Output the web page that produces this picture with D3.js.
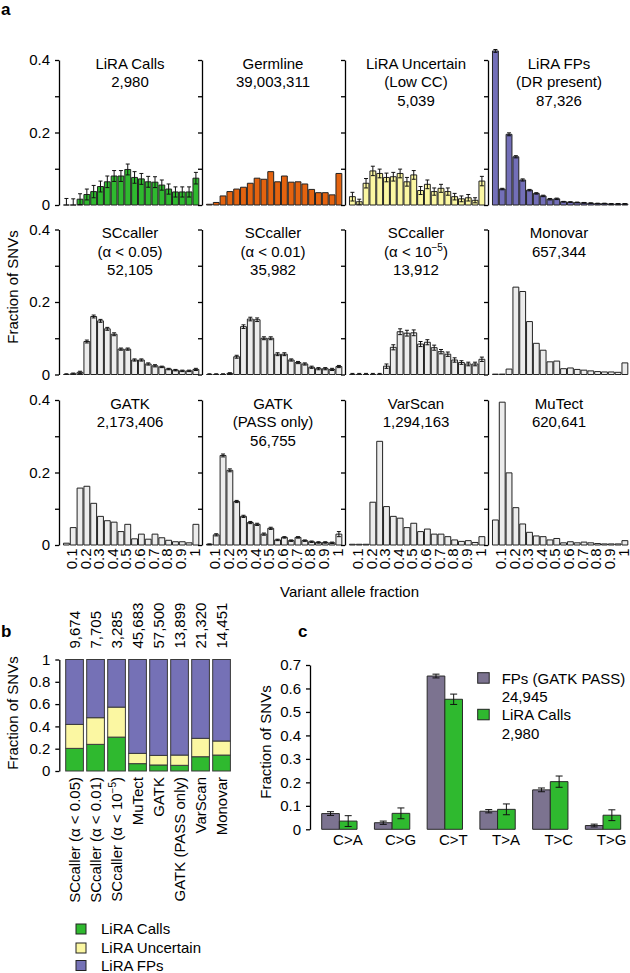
<!DOCTYPE html>
<html>
<head>
<meta charset="utf-8">
<script src="https://cdn.jsdelivr.net/npm/d3@7"></script>
<style>
  body { margin: 0; background: #fff; }
  svg { font-family: "Liberation Sans", Arial, Helvetica, sans-serif; }
</style>
</head>
<body>
<svg id="fig" width="630" height="973"></svg>
<script>
// ---------- data: panel a (VAF histograms) ----------
const vafBins = ["0.05","0.1","0.15","0.2","0.25","0.3","0.35","0.4","0.45","0.5",
                 "0.55","0.6","0.65","0.7","0.75","0.8","0.85","0.9","0.95","1"];
const vafTickLabels = ["0.1","0.2","0.3","0.4","0.5","0.6","0.7","0.8","0.9","1"];

const liraCalls     = [0,0,0.016,0.029,0.037,0.051,0.064,0.080,0.080,0.098,0.076,0.072,0.064,0.063,0.055,0.044,0.036,0.036,0.036,0.074];
const liraCallsErr  = [0.018,0.017,0.015,0.015,0.017,0.015,0.016,0.015,0.015,0.015,0.016,0.015,0.015,0.015,0.014,0.014,0.014,0.014,0.014,0.016];
const germline      = [0.002,0.007,0.025,0.037,0.044,0.049,0.060,0.074,0.071,0.092,0.064,0.080,0.063,0.064,0.058,0.043,0.034,0.034,0.028,0.087];
const liraUncertain = [0.023,0.009,0.060,0.094,0.087,0.076,0.078,0.087,0.064,0.083,0.040,0.057,0.037,0.046,0.037,0.023,0.017,0.020,0.013,0.066];
const liraUncErr    = [0.012,0.007,0.013,0.013,0.012,0.012,0.012,0.012,0.012,0.012,0.011,0.012,0.010,0.011,0.010,0.009,0.008,0.009,0.007,0.013];
const liraFPs       = [0.425,0.044,0.195,0.133,0.069,0.041,0.032,0.025,0.016,0.017,0.009,0.008,0.007,0.006,0.005,0.004,0.004,0.003,0.003,0.003];
const liraFPsErr    = [0.004,0.002,0.004,0.003,0.003,0.002,0.002,0.002,0.002,0.002,0.001,0.001,0.001,0.001,0.001,0.001,0.001,0.001,0.001,0.001];
const sc005         = [0,0.002,0.006,0.091,0.160,0.148,0.126,0.111,0.070,0.070,0.040,0.040,0.029,0.024,0.021,0.015,0.012,0.010,0.010,0.014];
const sc005Err      = [0.002,0.002,0.003,0.004,0.004,0.004,0.004,0.004,0.003,0.003,0.003,0.003,0.003,0.003,0.002,0.002,0.002,0.002,0.002,0.003];
const sc001         = [0,0,0,0.003,0.049,0.132,0.153,0.151,0.100,0.100,0.056,0.056,0.040,0.033,0.029,0.020,0.016,0.016,0.014,0.022];
const sc001Err      = [0.002,0.002,0.002,0.002,0.004,0.005,0.005,0.005,0.004,0.004,0.004,0.004,0.003,0.003,0.003,0.003,0.003,0.003,0.003,0.003];
const sc1e5         = [0,0,0,0,0,0.023,0.075,0.118,0.114,0.115,0.084,0.089,0.074,0.063,0.056,0.040,0.033,0.029,0.029,0.042];
const sc1e5Err      = [0.003,0.003,0.003,0.003,0.003,0.006,0.007,0.008,0.008,0.008,0.007,0.007,0.007,0.006,0.006,0.006,0.005,0.005,0.005,0.006];
const monovar       = [0.001,0.001,0.015,0.241,0.229,0.146,0.086,0.067,0.035,0.037,0.016,0.018,0.014,0.012,0.010,0.008,0.007,0.007,0.006,0.032];
const gatk          = [0.005,0.048,0.157,0.162,0.115,0.079,0.067,0.063,0.037,0.057,0.017,0.030,0.016,0.030,0.020,0.013,0.009,0.009,0.006,0.057];
const gatkPass      = [0.002,0.028,0.247,0.206,0.120,0.079,0.062,0.057,0.030,0.046,0.014,0.021,0.012,0.021,0.012,0.009,0.007,0.007,0.006,0.030];
const gatkPassErr   = [0.001,0.003,0.004,0.004,0.003,0.003,0.003,0.003,0.003,0.003,0.002,0.002,0.002,0.002,0.002,0.002,0.002,0.002,0.002,0.007];
const varscan       = [0.002,0.002,0.002,0.118,0.286,0.106,0.079,0.074,0.048,0.060,0.037,0.044,0.030,0.030,0.023,0.014,0.010,0.012,0.007,0.023];
const mutect        = [0.069,0.394,0.199,0.103,0.058,0.035,0.025,0.023,0.014,0.018,0.006,0.009,0.006,0.008,0.006,0.004,0.003,0.003,0.003,0.012];

const panelTitles = [
  ["LiRA Calls", "2,980"], ["Germline", "39,003,311"], ["LiRA Uncertain", "(Low CC)", "5,039"], ["LiRA FPs", "(DR present)", "87,326"],
  ["SCcaller", "(α < 0.05)", "52,105"], ["SCcaller", "(α < 0.01)", "35,982"], ["SCcaller", "(α < 10^{−5})", "13,912"], ["Monovar", "657,344"],
  ["GATK", "2,173,406"], ["GATK", "(PASS only)", "56,755"], ["VarScan", "1,294,163"], ["MuTect", "620,641"]
];
const panelValues = [liraCalls, germline, liraUncertain, liraFPs, sc005, sc001, sc1e5, monovar, gatk, gatkPass, varscan, mutect];
const panelErrors = [liraCallsErr, null, liraUncErr, liraFPsErr, sc005Err, sc001Err, sc1e5Err, null, null, gatkPassErr, null, null];
const yTicksA = [0, 0.1, 0.2, 0.3, 0.4];
const yLabelsA = [0, 0.2, 0.4];

// ---------- data: panel b (stacked fractions) ----------
const callers = ["SCcaller (α < 0.05)", "SCcaller (α < 0.01)", "SCcaller (α < 10^{−5})", "MuTect", "GATK", "GATK (PASS only)", "VarScan", "Monovar"];
const callerCounts = ["9,674", "7,705", "3,285", "45,683", "57,500", "13,899", "21,320", "14,451"];
const bCalls     = [0.203, 0.239, 0.304, 0.066, 0.054, 0.051, 0.128, 0.143];
const bUncertain = [0.215, 0.239, 0.269, 0.092, 0.086, 0.092, 0.165, 0.126];
const bFPs       = [0.582, 0.522, 0.427, 0.842, 0.860, 0.857, 0.707, 0.731];
const bLegend = ["LiRA Calls", "LiRA Uncertain", "LiRA FPs"];
const yTicksB = [0, 0.2, 0.4, 0.6, 0.8, 1];

// ---------- data: panel c (mutation spectrum) ----------
const mutTypes = ["C>A", "C>G", "C>T", "T>A", "T>C", "T>G"];
const fpSpectrum    = [0.067, 0.028, 0.653, 0.077, 0.168, 0.016];
const fpSpectrumErr = [0.008, 0.007, 0.008, 0.007, 0.008, 0.006];
const callSpectrum    = [0.035, 0.068, 0.554, 0.085, 0.203, 0.060];
const callSpectrumErr = [0.023, 0.023, 0.022, 0.023, 0.024, 0.023];
const cLegend = [["FPs (GATK PASS)", "24,945"], ["LiRA Calls", "2,980"]];
const yTicksC = [0, 0.1, 0.2, 0.3, 0.4, 0.5, 0.6, 0.7];

// ---------- styles ----------
const GREEN = "#2fb92f", ORANGE = "#e4630f", YELLOW = "#fbf7a2", PURPLE = "#736fb8", GREY = "#ececec", FPGREY = "#7c7390";
const panelFills = [GREEN, ORANGE, YELLOW, PURPLE, GREY, GREY, GREY, GREY, GREY, GREY, GREY, GREY];
const FS = 15;

const svg = d3.select("#fig");

// text with ^{...} superscripts
function richText(sel, str) {
  const parts = str.split(/\^\{([^}]*)\}/);
  let raised = false;
  parts.forEach((s, k) => {
    if (!s) return;
    if (k % 2 === 1) {
      sel.append("tspan").attr("font-size", "10px").attr("dy", -6).text(s);
      raised = true;
    } else {
      const t = sel.append("tspan").text(s);
      if (raised) { t.attr("dy", 6); raised = false; }
    }
  });
}

function styleAxis(g) {
  g.select(".domain").attr("stroke", "#000").attr("stroke-width", 1.3);
  g.selectAll(".tick line").attr("stroke", "#000").attr("stroke-width", 1.3);
  g.selectAll("text").attr("font-size", FS).attr("font-family", null).attr("fill", "#000");
  g.attr("font-family", null).attr("font-size", null);
}

const barPath = (x0, w, yb, yt) => `M${x0},${yb}V${yt}H${x0 + w}V${yb}Z`;

function errPath(cx, yScale, v, e, cap) {
  const hi = yScale(v + e), lo = yScale(Math.max(0, v - e));
  let p = `M${cx},${lo}V${hi}M${cx - cap},${hi}H${cx + cap}`;
  if (v - e > 0) p += `M${cx - cap},${lo}H${cx + cap}`;
  return p;
}

// panel letters
[["a", 1, 15], ["b", 1, 637], ["c", 298, 637]].forEach(([t, x, y]) => {
  svg.append("text").attr("x", x).attr("y", y).attr("font-size", 17).attr("font-weight", "bold").text(t);
});

// ========================================
// PANEL A
// ========================================
const colX0 = 59, colStep = 143;
const rowZero = [205, 374.5, 545], rowH = 145;

panelValues.forEach((vals, i) => {
  const c = i % 4, r = Math.floor(i / 4);
  const ax = colX0 + c * colStep;
  const x = d3.scaleBand().domain(vafBins).range([ax + 4, ax + 140.3]).paddingInner(0.14).paddingOuter(0.07);
  const y = d3.scaleLinear().domain([0, 0.4]).range([rowZero[r], rowZero[r] - rowH]);
  const g = svg.append("g");
  const bw = x.bandwidth();

  const yAxis = d3.axisLeft(y).tickValues(yTicksA).tickSize(4).tickSizeOuter(0).tickPadding(5)
    .tickFormat(d => (c === 0 && yLabelsA.includes(d)) ? String(d) : "");
  g.append("g").attr("transform", `translate(${ax},0)`).call(yAxis).call(styleAxis);

  g.selectAll(".bar").data(vals).join("path")
    .attr("d", (v, k) => barPath(x(vafBins[k]), bw, y(0), y(v)))
    .attr("fill", panelFills[i]).attr("stroke", "#222").attr("stroke-width", 1);

  const err = panelErrors[i];
  if (err) {
    g.selectAll(".eb").data(vals).join("path")
      .attr("d", (v, k) => errPath(x(vafBins[k]) + bw / 2, y, v, err[k], 2))
      .attr("fill", "none").attr("stroke", "#111").attr("stroke-width", 1);
  }

  panelTitles[i].forEach((line, li) => {
    const t = g.append("text").attr("text-anchor", "middle").attr("font-size", FS)
      .attr("x", ax + 71).attr("y", rowZero[r] - rowH + 8.5 + li * 18.5);
    richText(t, line);
  });

  if (r === 2) {
    const xAxis = d3.axisBottom(x).tickValues(vafTickLabels).tickSize(0);
    const xg = g.append("g").attr("transform", `translate(0,${rowZero[r]})`).call(xAxis).call(styleAxis);
    xg.select(".domain").remove();
    xg.selectAll("text").attr("transform", "rotate(-90)").attr("text-anchor", "end")
      .attr("x", -3.5).attr("y", -1.5).attr("dy", "0.35em");
  }
});

svg.append("text").attr("transform", "translate(17.5,287) rotate(-90)").attr("text-anchor", "middle")
  .attr("font-size", FS).text("Fraction of SNVs");
svg.append("text").attr("x", 349.5).attr("y", 597).attr("text-anchor", "middle")
  .attr("font-size", FS).text("Variant allele fraction");

// ========================================
// PANEL B
// ========================================
const bx = d3.scaleBand().domain(callers).range([64.05, 232.05]).paddingInner(0.157).paddingOuter(0.0785);
const by = d3.scaleLinear().domain([0, 1]).range([771, 659.5]);
const bRows = callers.map((name, k) => ({ name, calls: bCalls[k], uncertain: bUncertain[k], fps: bFPs[k] }));
const bStack = d3.stack().keys(["calls", "uncertain", "fps"])(bRows);
const bFills = [GREEN, YELLOW, "#7571b6"];

const gb = svg.append("g");
gb.append("g").attr("transform", "translate(59.3,0)")
  .call(d3.axisLeft(by).tickValues(yTicksB).tickSize(4).tickSizeOuter(0).tickPadding(5).tickFormat(d => String(d)))
  .call(styleAxis);

bStack.forEach((layer, li) => {
  gb.selectAll(".seg" + li).data(layer).join("rect")
    .attr("x", d => bx(d.data.name)).attr("width", bx.bandwidth())
    .attr("y", d => by(d[1])).attr("height", d => by(d[0]) - by(d[1]))
    .attr("fill", bFills[li]).attr("stroke", "#3a3a3a").attr("stroke-width", 1);
});

callers.forEach((name, k) => {
  const cx = bx(name) + bx.bandwidth() / 2;
  gb.append("text").attr("transform", `translate(${cx + 5.3},648.5) rotate(-90)`)
    .attr("font-size", FS).text(callerCounts[k]);
  const t = gb.append("text").attr("transform", `translate(${cx + 5.3},777) rotate(-90)`)
    .attr("text-anchor", "end").attr("font-size", FS);
  richText(t, name);
});

svg.append("text").attr("transform", "translate(18,713) rotate(-90)").attr("text-anchor", "middle")
  .attr("font-size", FS).text("Fraction of SNVs");

bLegend.forEach((lab, k) => {
  const cy = [929, 948, 965.5][k];
  gb.append("rect").attr("x", 76).attr("y", cy - 5).attr("width", 10).attr("height", 10)
    .attr("fill", bFills[k]).attr("stroke", "#222").attr("stroke-width", 1);
  gb.append("text").attr("x", 101).attr("y", cy + 5.3).attr("font-size", FS).text(lab);
});

// ========================================
// PANEL C
// ========================================
const cx0 = d3.scaleBand().domain(mutTypes).range([313, 629.4]).paddingInner(0.33).paddingOuter(0.165);
const cx1 = d3.scaleBand().domain(["fp", "calls"]).range([0, cx0.bandwidth()]);
const cy = d3.scaleLinear().domain([0, 0.7]).range([829.3, 665]);
const gc = svg.append("g");

gc.append("g").attr("transform", "translate(310,0)")
  .call(d3.axisLeft(cy).tickValues(yTicksC).tickSize(4).tickSizeOuter(0).tickPadding(5).tickFormat(d => String(d)))
  .call(styleAxis);

const cSeries = [
  { key: "fp", vals: fpSpectrum, err: fpSpectrumErr, fill: FPGREY },
  { key: "calls", vals: callSpectrum, err: callSpectrumErr, fill: GREEN }
];
cSeries.forEach(s => {
  gc.selectAll(".cb" + s.key).data(s.vals).join("path")
    .attr("d", (v, k) => barPath(cx0(mutTypes[k]) + cx1(s.key), cx1.bandwidth(), cy(0), cy(v)))
    .attr("fill", s.fill).attr("stroke", "#2a2a2a").attr("stroke-width", 1);
  gc.selectAll(".ce" + s.key).data(s.vals).join("path")
    .attr("d", (v, k) => errPath(cx0(mutTypes[k]) + cx1(s.key) + cx1.bandwidth() / 2, cy, v, s.err[k], 3.5))
    .attr("fill", "none").attr("stroke", "#111").attr("stroke-width", 1);
});

mutTypes.forEach(t => {
  gc.append("text").attr("x", cx0(t) + cx0.bandwidth() / 2 + 8.5).attr("y", 845)
    .attr("text-anchor", "middle").attr("font-size", FS).text(t);
});

svg.append("text").attr("transform", "translate(270.5,742) rotate(-90)").attr("text-anchor", "middle")
  .attr("font-size", FS).text("Fraction of SNVs");

cLegend.forEach((lines, k) => {
  const top = 672.7 + k * 36.6;
  gc.append("rect").attr("x", 477.7).attr("y", top).attr("width", 11.5).attr("height", 10.5)
    .attr("fill", cSeries[k].fill).attr("stroke", "#222").attr("stroke-width", 1);
  lines.forEach((ln, li) => {
    gc.append("text").attr("x", 501.7).attr("y", top + 10.8 + li * 18.5).attr("font-size", FS).text(ln);
  });
});
</script>
</body>
</html>
